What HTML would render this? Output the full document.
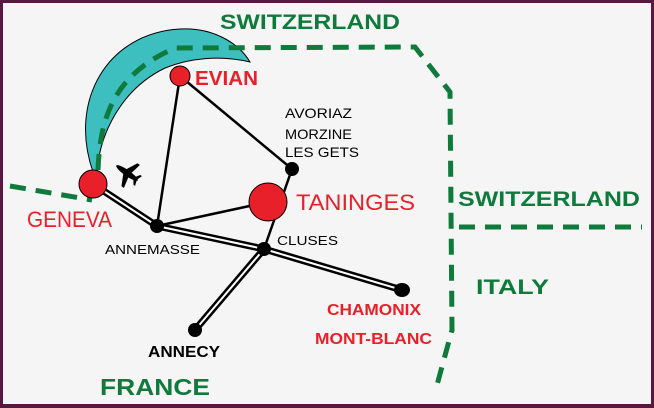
<!DOCTYPE html>
<html><head><style>
html,body{margin:0;padding:0;}
body{width:654px;height:408px;overflow:hidden;background:#5a1840;}
svg{display:block;}
text{font-family:"Liberation Sans",Arial,sans-serif;}
</style></head><body>
<svg width="654" height="408" viewBox="0 0 654 408">
<rect x="3" y="3" width="648" height="401" fill="#f5f5f5"/>
<!-- crescent -->
<path d="M93,172 C68,100 108,33 180,29 C215,27 240,45 250,62 C220,55 190,58 165,68 C120,90 100,135 97,171 Z" fill="#3ebfbf" stroke="#000" stroke-width="1"/>
<!-- borders -->
<g fill="none" stroke="#0f7a3c" stroke-width="5" stroke-dasharray="16,10">
<path d="M98,170 C100,120 112,75 175,48 L415,47 L450,92 L452,330 L437,385"/>
<path d="M10,186 L92,200"/>
<path d="M459,227 L642,227"/>
</g>
<!-- single roads -->
<g stroke="#000" stroke-width="2.5" fill="none">
<path d="M180,76 L157,226"/>
<path d="M180,76 L292,169 L264,249"/>
<path d="M157,226 L268,202"/>
</g>
<!-- double roads -->
<g fill="none" stroke-linecap="round">
<path d="M93,184 L157,226 L264,249 L402,290 M264,249 L195,330" stroke="#000" stroke-width="7"/>
<path d="M93,184 L157,226 L264,249 L402,290 M264,249 L195,330" stroke="#fff" stroke-width="2"/>
</g>
<!-- nodes -->
<circle cx="93" cy="184" r="14" fill="#e8202a" stroke="#000" stroke-width="1"/>
<circle cx="180" cy="76" r="10" fill="#e8202a" stroke="#000" stroke-width="1"/>
<circle cx="268" cy="202" r="19" fill="#e8202a" stroke="#000" stroke-width="1"/>
<circle cx="292" cy="169" r="7" fill="#000"/>
<circle cx="157" cy="226" r="7" fill="#000"/>
<circle cx="264" cy="249" r="7" fill="#000"/>
<ellipse cx="402" cy="290" rx="8" ry="7" fill="#000"/>
<circle cx="195" cy="330" r="7" fill="#000"/>
<!-- plane -->
<g transform="translate(127,173) rotate(-55)" fill="#000">
<ellipse cx="0" cy="0" rx="3" ry="13"/>
<path d="M0,-4 L14,3 L14,6 L0,3 L-14,6 L-14,3 Z"/>
<path d="M0,8 L6,12 L6,14 L0,12 L-6,14 L-6,12 Z"/>
</g>
<!-- labels -->
<g font-weight="bold" fill="#0f7a3c" lengthAdjust="spacingAndGlyphs">
<text x="220" y="29" font-size="21" textLength="180" lengthAdjust="spacingAndGlyphs">SWITZERLAND</text>
<text x="458" y="206" font-size="21" textLength="182" lengthAdjust="spacingAndGlyphs">SWITZERLAND</text>
<text x="476" y="294" font-size="21" textLength="73" lengthAdjust="spacingAndGlyphs">ITALY</text>
<text x="100" y="395" font-size="23" textLength="110" lengthAdjust="spacingAndGlyphs">FRANCE</text>
</g>
<text x="195" y="85" font-size="20" font-weight="bold" fill="#e8202a" textLength="63" lengthAdjust="spacingAndGlyphs">EVIAN</text>
<text x="296" y="210" font-size="22" fill="#e8202a" textLength="119" lengthAdjust="spacingAndGlyphs">TANINGES</text>
<text x="27" y="227" font-size="22" fill="#e8202a" textLength="85" lengthAdjust="spacingAndGlyphs">GENEVA</text>
<text x="327" y="315" font-size="16" font-weight="bold" fill="#e8202a" textLength="94" lengthAdjust="spacingAndGlyphs">CHAMONIX</text>
<text x="315" y="344" font-size="16" font-weight="bold" fill="#e8202a" textLength="117" lengthAdjust="spacingAndGlyphs">MONT-BLANC</text>
<g font-size="14" fill="#000">
<text x="285" y="118" textLength="67" lengthAdjust="spacingAndGlyphs">AVORIAZ</text>
<text x="285" y="139" textLength="67" lengthAdjust="spacingAndGlyphs">MORZINE</text>
<text x="285" y="157" textLength="74" lengthAdjust="spacingAndGlyphs">LES GETS</text>
<text x="105" y="254" font-size="13" textLength="95" lengthAdjust="spacingAndGlyphs">ANNEMASSE</text>
<text x="277" y="245" font-size="13" textLength="61" lengthAdjust="spacingAndGlyphs">CLUSES</text>
</g>
<text x="148" y="357" font-size="16" font-weight="bold" fill="#000" textLength="72" lengthAdjust="spacingAndGlyphs">ANNECY</text>
</svg>
</body></html>
